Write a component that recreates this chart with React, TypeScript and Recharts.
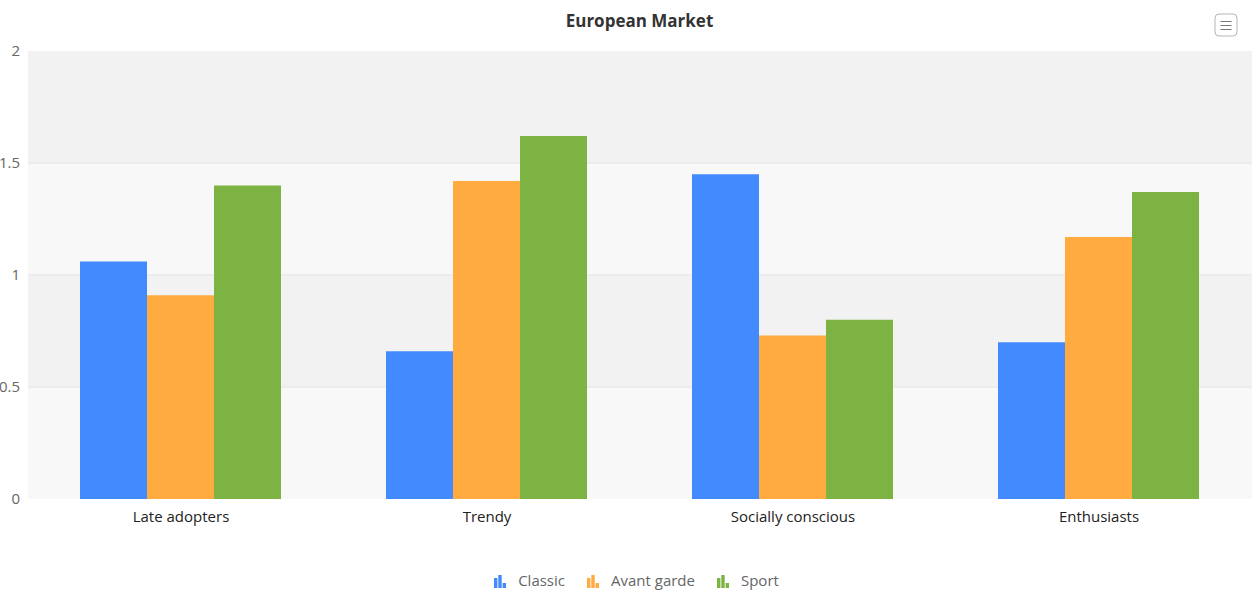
import React from 'react';
import { BarChart, Bar, XAxis, YAxis, CartesianGrid, Legend } from 'recharts';

const categories = ['Late adopters', 'Trendy', 'Socially conscious', 'Enthusiasts'];
const classic = [1.06, 0.66, 1.45, 0.7];
const avantGarde = [0.91, 1.42, 0.73, 1.17];
const sport = [1.4, 1.62, 0.8, 1.37];
const yTicks = [0, 0.5, 1, 1.5, 2];

const seriesInfo = [
  { key: 'classic', name: 'Classic', color: '#448aff' },
  { key: 'avant', name: 'Avant garde', color: '#ffab40' },
  { key: 'sport', name: 'Sport', color: '#7cb342' },
];

const data = categories.map((c, i) => ({
  name: c,
  classic: classic[i],
  avant: avantGarde[i],
  sport: sport[i],
}));

const FONT = '"Open Sans", "Noto Sans", sans-serif';

const BarIcon = ({ color }: { color: string }) => (
  <svg
    width={12}
    height={16}
    viewBox="0 0 12 16"
    style={{ marginRight: 12, display: 'block', flexShrink: 0, width: 12, height: 16 }}
  >
    <rect x={0} y={6} width={3.4} height={10} fill={color} />
    <rect x={4.3} y={3} width={3.4} height={13} fill={color} />
    <rect x={8.6} y={11} width={3.4} height={5} fill={color} />
  </svg>
);

const LegendContent = () => (
  <div
    style={{
      display: 'flex',
      justifyContent: 'center',
      alignItems: 'center',
      height: 30,
      width: 1273,
      fontFamily: FONT,
      fontSize: 15,
      color: '#666',
    }}
  >
    {seriesInfo.map((s) => (
      <div key={s.key} style={{ display: 'flex', alignItems: 'center', margin: '0 11px', flexShrink: 0 }}>
        <BarIcon color={s.color} />
        <span style={{ whiteSpace: 'nowrap' }}>{s.name}</span>
      </div>
    ))}
  </div>
);

const gridLine = (props: any) => {
  const { x1, x2, y1, y2, y, height, key } = props;
  if (Math.abs(y1 - y) < 1 || Math.abs(y1 - (y + height)) < 1) return <g key={key} />;
  return <line key={key} x1={x1} x2={x2} y1={y1} y2={y2} stroke="#e4e4e4" strokeWidth={1} />;
};

export default function App() {
  return (
    <div style={{ position: 'absolute', left: 0, top: 0, width: 1259, height: 595, background: '#fff', overflow: 'hidden' }}>
      <div
        style={{
          position: 'absolute',
          left: 0,
          top: 8,
          width: 1279,
          textAlign: 'center',
          fontFamily: FONT,
          fontWeight: 700,
          fontSize: 17,
          color: '#333',
          lineHeight: '26px',
        }}
      >
        European Market
      </div>
      <svg
        style={{ position: 'absolute', left: 1214, top: 13 }}
        width={24}
        height={24}
        viewBox="0 0 24 24"
      >
        <rect x={1} y={1} width={22} height={22} rx={4} ry={4} fill="#fff" stroke="#b5b5b5" strokeWidth={1} />
        <line x1={6.5} x2={17.5} y1={8.5} y2={8.5} stroke="#777" strokeWidth={1} />
        <line x1={6.5} x2={17.5} y1={12.5} y2={12.5} stroke="#777" strokeWidth={1} />
        <line x1={6.5} x2={17.5} y1={16.5} y2={16.5} stroke="#777" strokeWidth={1} />
      </svg>
      <BarChart
        width={1259}
        height={595}
        data={data}
        margin={{ top: 51, right: 7, left: 0, bottom: 36 }}
        barCategoryGap={52}
        barGap={0}
      >
        <CartesianGrid
          vertical={false}
          horizontal={gridLine}
          horizontalFill={['#f2f2f2', '#f8f8f8']}
          stroke="#e4e4e4"
        />
        <XAxis
          dataKey="name"
          axisLine={false}
          tickLine={false}
          height={30}
          tickMargin={6}
          tick={{ fill: '#222', fontSize: 15, fontFamily: FONT }}
        />
        <YAxis
          width={28}
          domain={[0, 2]}
          ticks={yTicks}
          axisLine={false}
          tickLine={false}
          tick={{ fill: '#666', fontSize: 15, fontFamily: FONT }}
        />
        <Legend
          verticalAlign="bottom"
          content={<LegendContent />}
          wrapperStyle={{ bottom: 0, left: 0, width: 1259, height: 30 }}
        />
        {seriesInfo.map((s) => (
          <Bar key={s.key} dataKey={s.key} name={s.name} fill={s.color} isAnimationActive={false} />
        ))}
      </BarChart>
    </div>
  );
}
